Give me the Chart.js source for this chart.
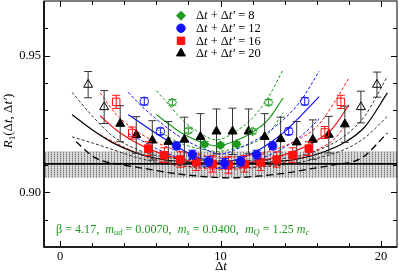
<!DOCTYPE html>
<html>
<head>
<meta charset="utf-8">
<script src="https://cdn.jsdelivr.net/npm/chart.js@4/dist/chart.umd.min.js"></script>
<style>
  html, body { margin: 0; padding: 0; background: #fff; }
  #wrap { position: relative; width: 399px; height: 274px; }
</style>
</head>
<body>
<div id="wrap"><canvas id="chart"></canvas></div>
<script>
// tick positions
const xTicks = [0, 2, 4, 6, 8, 10, 12, 14, 16, 18, 20];
const xLabels = [0, 10, 20];
const yTicks = [0.89, 0.90, 0.91, 0.92, 0.93, 0.94, 0.95, 0.96];
const yLabels = [0.90, 0.95];

// Δt + Δt' = 20 (black triangles)
const triX = [1.75, 2.75, 3.75, 4.75, 5.75, 6.75, 7.75, 8.75, 9.75, 10.75, 11.75, 12.75, 13.75, 14.75, 15.75, 16.75, 17.75, 18.75, 19.75];
const triY = [0.9394, 0.9312, 0.9251, 0.9210, 0.9190, 0.9185, 0.9193, 0.9203, 0.9223, 0.9223, 0.9223, 0.9203, 0.9195, 0.9183, 0.9193, 0.9211, 0.9249, 0.9312, 0.9394];
const triErr = [0.0048, 0.0060, 0.0066, 0.0067, 0.0072, 0.0074, 0.0082, 0.0085, 0.0082, 0.0085, 0.0082, 0.0085, 0.0080, 0.0076, 0.0072, 0.0067, 0.0066, 0.0058, 0.0046];
const triOpen = [1, 1, 0, 0, 0, 0, 0, 0, 0, 0, 0, 0, 0, 0, 0, 0, 0, 1, 1];

// Δt + Δt' = 16 (red squares)
const redX = [3.5, 4.5, 5.5, 6.5, 7.5, 8.5, 9.5, 10.5, 11.5, 12.5, 13.5, 14.5, 15.5, 16.5, 17.5];
const redY = [0.9331, 0.9217, 0.9160, 0.9136, 0.9120, 0.9110, 0.9104, 0.9100, 0.9104, 0.9110, 0.9120, 0.9136, 0.9160, 0.9219, 0.9331];
const redErr = [0.0024, 0.0022, 0.0025, 0.0027, 0.0028, 0.0030, 0.0030, 0.0030, 0.0030, 0.0030, 0.0028, 0.0027, 0.0025, 0.0022, 0.0024];
const redOpen = [1, 1, 0, 0, 0, 0, 0, 0, 0, 0, 0, 0, 0, 1, 1];

// Δt + Δt' = 12 (blue circles)
const blueX = [5.25, 6.25, 7.25, 8.25, 9.25, 10.25, 11.25, 12.25, 13.25, 14.25, 15.25];
const blueY = [0.9333, 0.9223, 0.9170, 0.9138, 0.9113, 0.9106, 0.9113, 0.9138, 0.9170, 0.9223, 0.9333];
const blueErr = [0.0013, 0.0012, 0.0014, 0.0016, 0.0017, 0.0018, 0.0017, 0.0016, 0.0014, 0.0012, 0.0013];
const blueOpen = [1, 1, 0, 0, 0, 0, 0, 0, 0, 1, 1];

// Δt + Δt' = 8 (green diamonds)
const greenX = [7, 8, 9, 10, 11, 12, 13];
const greenY = [0.9329, 0.9226, 0.9176, 0.9172, 0.9176, 0.9223, 0.9329];
const greenErr = [0.0010, 0.0009, 0.0009, 0.0009, 0.0009, 0.0009, 0.0010];
const greenOpen = [1, 1, 0, 0, 0, 1, 1];

// fit curves
const gCurveX = [6.0, 6.5, 7.5, 8.5, 9.75, 11.0, 12.0, 13.0, 13.9];
const gUp  = [0.9372, 0.9340, 0.9272, 0.9225, 0.9192, 0.9225, 0.9272, 0.9350, 0.9449];
const gFit = [0.9285, 0.9262, 0.9220, 0.9190, 0.9170, 0.9190, 0.9220, 0.9268, 0.9345];
const gLo  = [0.9232, 0.9212, 0.9180, 0.9162, 0.9150, 0.9162, 0.9180, 0.9215, 0.9292];

const bCurveX = [4.25, 5.0, 6.0, 7.0, 8.0, 9.0, 10.0, 11.0, 12.0, 13.0, 14.0, 15.0, 16.15];
const bUp  = [0.9366, 0.9320, 0.9268, 0.9222, 0.9185, 0.9158, 0.9140, 0.9158, 0.9185, 0.9222, 0.9270, 0.9335, 0.9443];
const bFit = [0.9284, 0.9255, 0.9215, 0.9178, 0.9143, 0.9120, 0.9110, 0.9120, 0.9143, 0.9178, 0.9222, 0.9280, 0.9350];
const bLo  = [0.9215, 0.9192, 0.9160, 0.9135, 0.9112, 0.9095, 0.9088, 0.9095, 0.9112, 0.9135, 0.9165, 0.9205, 0.9268];

const rCurveX = [2.5, 3.5, 4.5, 5.5, 6.5, 7.5, 8.5, 9.5, 10.25, 11.0, 12.0, 13.0, 14.0, 15.0, 16.0, 17.0, 18.0];
const rUp  = [0.9364, 0.9285, 0.9235, 0.9198, 0.9170, 0.9150, 0.9137, 0.9130, 0.9128, 0.9130, 0.9137, 0.9150, 0.9170, 0.9198, 0.9240, 0.9320, 0.9418];
const rFit = [0.9280, 0.9228, 0.9190, 0.9160, 0.9138, 0.9122, 0.9111, 0.9105, 0.9103, 0.9105, 0.9111, 0.9122, 0.9138, 0.9160, 0.9190, 0.9235, 0.9320];
const rLo  = [0.9210, 0.9180, 0.9152, 0.9128, 0.9110, 0.9098, 0.9090, 0.9085, 0.9084, 0.9085, 0.9090, 0.9098, 0.9110, 0.9128, 0.9155, 0.9190, 0.9260];

const kCurveX = [0.75, 2.0, 3.3, 4.75, 6.2, 8.0, 10.5, 13.0, 14.8, 16.25, 17.7, 19.0, 20.4];
const kUp  = [0.9366, 0.9280, 0.9205, 0.9158, 0.9132, 0.9120, 0.9116, 0.9120, 0.9132, 0.9158, 0.9205, 0.9280, 0.9424];
const kFit = [0.9284, 0.9229, 0.9181, 0.9144, 0.9122, 0.9110, 0.9106, 0.9110, 0.9122, 0.9144, 0.9181, 0.9240, 0.9364];
const kLo  = [0.9203, 0.9181, 0.9156, 0.9128, 0.9108, 0.9095, 0.9090, 0.9095, 0.9108, 0.9128, 0.9156, 0.9200, 0.9278];
const kLowX = [1.0, 2.2, 4.0, 5.5, 7.0, 8.7, 10.5, 12.3, 14.0, 15.5, 17.0, 18.8, 20.4];
const kLow  = [0.9185, 0.9126, 0.9100, 0.9085, 0.9070, 0.9059, 0.9053, 0.9059, 0.9070, 0.9085, 0.9100, 0.9126, 0.9217];

// constant fit result and its error band
const bandX = [-1, 21];
const bandHi = [0.9150, 0.9150];
const bandLo = [0.9053, 0.9053];
const bandMid = [0.9104, 0.9104];

const GREEN = '#1e9a1e', BLUE = '#1010ff', RED = '#ff1010', BLACK = '#000';
const SERIF = '"Liberation Serif", "DejaVu Serif", serif';

// hatched gray pattern for the band
const pc = document.createElement('canvas');
pc.width = 3; pc.height = 2;
const pctx = pc.getContext('2d');
pctx.fillStyle = '#d8d8d8'; pctx.fillRect(0, 0, 3, 2);
pctx.fillStyle = '#7c7c7c'; pctx.fillRect(0, 0, 1, 1);
pctx.fillStyle = '#adadad'; pctx.fillRect(0, 1, 1, 1);
const bandPattern = pctx.createPattern(pc, 'repeat');

function pts(xs, ys) { return xs.map((x, i) => ({ x: x, y: ys[i] })); }

function curve(xs, ys, color, dash, width) {
  return {
    type: 'line', data: pts(xs, ys), borderColor: color, borderWidth: width,
    borderDash: dash, pointRadius: 0, cubicInterpolationMode: 'monotone',
    fill: false, order: 50
  };
}

function marks(xs, ys, errs, open, color, style, r, barColor) {
  return {
    type: 'scatter', data: pts(xs, ys), errs: errs, barColor: barColor,
    pointStyle: style, pointRadius: r, pointBorderWidth: 1,
    pointBorderColor: color,
    pointBackgroundColor: open.map(o => o ? 'rgba(0,0,0,0)' : color),
    order: 1
  };
}

function richWidth(ctx, parts, size) {
  let w = 0;
  for (const [t, s] of parts) {
    const sub = s.includes('sub');
    ctx.font = (s.startsWith('i') ? 'italic ' : '') + (sub ? size * 0.7 : size) + 'px ' + SERIF;
    w += ctx.measureText(t).width;
  }
  return w;
}

function drawRich(ctx, parts, x, y, size) {
  let cx = x;
  for (const [t, s] of parts) {
    const sub = s.includes('sub');
    ctx.font = (s.startsWith('i') ? 'italic ' : '') + (sub ? size * 0.7 : size) + 'px ' + SERIF;
    ctx.fillText(t, cx, y + (sub ? size * 0.3 : 0));
    cx += ctx.measureText(t).width;
  }
}

const errorBars = {
  id: 'errorBars',
  beforeDatasetDraw(chart, args) {
    const ds = chart.data.datasets[args.index];
    if (!ds.errs) return;
    const { ctx, scales: { x, y } } = chart;
    ctx.save();
    ctx.strokeStyle = ds.barColor;
    ctx.lineWidth = 1;
    ds.data.forEach((p, i) => {
      const px = x.getPixelForValue(p.x);
      const top = y.getPixelForValue(p.y + ds.errs[i]);
      const bot = y.getPixelForValue(p.y - ds.errs[i]);
      ctx.beginPath();
      ctx.moveTo(px, top); ctx.lineTo(px, bot);
      ctx.moveTo(px - 4, top); ctx.lineTo(px + 4, top);
      ctx.moveTo(px - 4, bot); ctx.lineTo(px + 4, bot);
      ctx.stroke();
    });
    ctx.restore();
  }
};

const decor = {
  id: 'decor',
  afterDraw(chart) {
    const { ctx, chartArea: a, scales: { x, y } } = chart;
    ctx.save();
    // frame
    ctx.strokeStyle = '#000';
    ctx.lineWidth = 1;
    ctx.strokeRect(a.left, a.top, a.right - a.left, a.bottom - a.top);
    ctx.lineWidth = 1.6;
    ctx.beginPath();
    ctx.moveTo(a.left, a.top); ctx.lineTo(a.left, a.bottom); ctx.lineTo(a.right, a.bottom);
    ctx.stroke();
    // inward ticks on all four sides
    ctx.lineWidth = 1;
    ctx.beginPath();
    xTicks.forEach(v => {
      const px = Math.round(x.getPixelForValue(v)) + 0.5;
      const len = xLabels.includes(v) ? 6 : 4;
      ctx.moveTo(px, a.bottom); ctx.lineTo(px, a.bottom - len);
      ctx.moveTo(px, a.top); ctx.lineTo(px, a.top + len);
    });
    yTicks.forEach(v => {
      const py = Math.round(y.getPixelForValue(v)) + 0.5;
      const len = yLabels.some(l => Math.abs(l - v) < 1e-6) ? 6 : 4;
      ctx.moveTo(a.left, py); ctx.lineTo(a.left + len, py);
      ctx.moveTo(a.right, py); ctx.lineTo(a.right - len, py);
    });
    ctx.stroke();

    // tick labels
    ctx.fillStyle = '#000';
    ctx.font = '12.5px ' + SERIF;
    ctx.textAlign = 'center';
    ctx.textBaseline = 'middle';
    xLabels.forEach(v => ctx.fillText(String(v), x.getPixelForValue(v), 256.5));
    ctx.textAlign = 'right';
    yLabels.forEach(v => ctx.fillText(v.toFixed(2), a.left - 3, y.getPixelForValue(v)));
    ctx.textAlign = 'left';

    // legend
    const rows = [
      { style: 'rectRot', r: 4.5, color: GREEN, label: '8' },
      { style: 'circle', r: 4.2, color: BLUE, label: '12' },
      { style: 'rect', r: 5.3, color: RED, label: '16' },
      { style: 'triangle', r: 5.2, color: BLACK, label: '20' }
    ];
    rows.forEach((row, i) => {
      const ly = 15.7 + i * 12.55;
      ctx.fillStyle = row.color;
      ctx.strokeStyle = row.color;
      ctx.lineWidth = 1;
      Chart.helpers.drawPoint(ctx, { pointStyle: row.style, radius: row.r, rotation: 0, borderWidth: 1 }, 181, ly);
      ctx.fillStyle = '#000';
      drawRich(ctx, [['Δ', 'n'], ['t', 'i'], [' + Δ', 'n'], ['t′', 'i'], [' = ' + row.label, 'n']], 196, ly + 0.5, 12.5);
    });

    // run parameters
    ctx.fillStyle = GREEN;
    drawRich(ctx, [['β = 4.17,  ', 'n'], ['m', 'i'], ['ud', 'isub'], [' = 0.0070,  ', 'n'],
      ['m', 'i'], ['s', 'isub'], [' = 0.0400,  ', 'n'], ['m', 'i'], ['Q', 'isub'],
      [' = 1.25 ', 'n'], ['m', 'i'], ['c', 'isub']], 56, 229.5, 12.1);

    // axis titles
    ctx.fillStyle = '#000';
    const xt = [['Δ', 'n'], ['t', 'i']];
    drawRich(ctx, xt, 221 - richWidth(ctx, xt, 13) / 2, 267, 13);
    const yt = [['R', 'i'], ['1', 'sub'], ['(Δ', 'n'], ['t', 'i'], [', Δ', 'n'], ['t′', 'i'], [')', 'n']];
    ctx.translate(9, 121);
    ctx.rotate(-Math.PI / 2);
    drawRich(ctx, yt, -richWidth(ctx, yt, 13) / 2, 0, 13);
    ctx.restore();
  }
};

new Chart(document.getElementById('chart'), {
  data: {
    datasets: [
      { type: 'line', data: pts(bandX, bandHi), borderWidth: 0, pointRadius: 0, fill: '+1', backgroundColor: bandPattern, order: 100 },
      { type: 'line', data: pts(bandX, bandLo), borderWidth: 0, pointRadius: 0, fill: false, order: 100 },
      { type: 'line', data: pts(bandX, bandMid), borderColor: BLACK, borderWidth: 1.6, pointRadius: 0, fill: false, order: 60 },

      curve(kCurveX, kUp, '#333', [3, 2], 1),
      curve(kCurveX, kFit, BLACK, [], 1.2),
      curve(kCurveX, kLo, '#333', [3, 2], 1),
      curve(kLowX, kLow, BLACK, [7, 4], 1.3),

      curve(rCurveX, rUp, RED, [3, 2], 1),
      curve(rCurveX, rFit, RED, [], 1.2),
      curve(rCurveX, rLo, RED, [3, 2], 1),

      curve(bCurveX, bUp, BLUE, [3, 2], 1),
      curve(bCurveX, bFit, BLUE, [], 1.2),
      curve(bCurveX, bLo, BLUE, [3, 2], 1),

      curve(gCurveX, gUp, GREEN, [3, 2], 1),
      curve(gCurveX, gFit, GREEN, [], 1.2),
      curve(gCurveX, gLo, GREEN, [3, 2], 1),

      marks(greenX, greenY, greenErr, greenOpen, GREEN, 'rectRot', 4.5, GREEN),
      marks(blueX, blueY, blueErr, blueOpen, BLUE, 'circle', 4.2, BLUE),
      marks(redX, redY, redErr, redOpen, RED, 'rect', 5.3, RED),
      marks(triX, triY, triErr, triOpen, BLACK, 'triangle', 5.2, '#333')
    ]
  },
  options: {
    responsive: true,
    maintainAspectRatio: false,
    animation: false,
    devicePixelRatio: 1,
    layout: { autoPadding: false, padding: { top: 1, right: 2, left: 44, bottom: 27 } },
    plugins: { legend: { display: false }, tooltip: { enabled: false } },
    scales: {
      x: { type: 'linear', min: -1, max: 21, display: false },
      y: { type: 'linear', min: 0.88, max: 0.97, display: false }
    }
  },
  plugins: [errorBars, decor]
});
</script>
</body>
</html>
